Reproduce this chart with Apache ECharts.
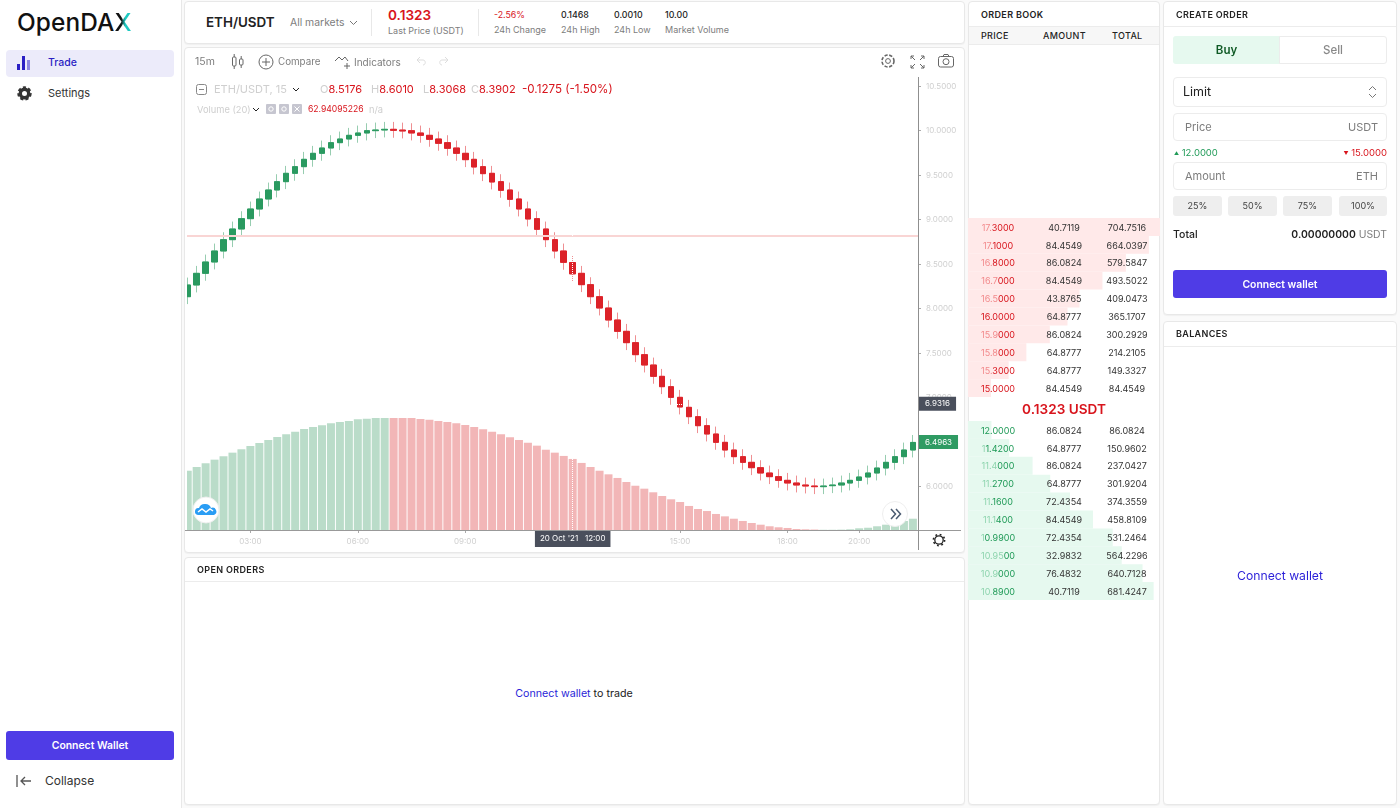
<!DOCTYPE html>
<html>
<head>
<meta charset="UTF-8">
<title>OpenDAX ETH/USDT</title>
<script src="https://cdn.jsdelivr.net/npm/echarts@6/dist/echarts.min.js"></script>
<style>
html,body{margin:0;padding:0;width:1400px;height:808px;overflow:hidden;background:#fafafa;font-family:Inter,"Noto Sans",sans-serif;color:#222}
.abs,.panel,.t{position:absolute}
.t{white-space:nowrap;line-height:1}
.panel{background:#fff;border:1px solid #e8e8e8;border-radius:4px;box-sizing:border-box;box-shadow:0 1px 1px rgba(0,0,0,.04)}
.head{font-size:9px;font-weight:600;letter-spacing:.35px;color:#222}
.hr{position:absolute;height:1px;background:#ececec}
.gray{color:#7d7d7d}
.pale{color:#cfcfcf}
.red{color:#d8141c}
.field{position:absolute;left:1173px;width:214px;box-sizing:border-box;border:1px solid #ececec;border-radius:4px;background:#fff}
.pct{position:absolute;top:196px;height:20px;background:#eee;border-radius:3px;font-size:9px;color:#444;text-align:center;line-height:20px}
.btn{position:absolute;background:#4f3ce6;color:#fff;border-radius:3px;text-align:center;font-weight:600;font-size:10.4px}
.row{position:absolute;left:968px;width:192px;height:18px;font-size:9px;line-height:18px;color:#333}
.row span.c{position:absolute;width:70px;text-align:center;top:0}
</style>
</head>
<body>
<!-- sidebar -->
<div class="abs" style="left:0;top:0;width:181px;height:808px;background:#fff;border-right:1px solid #e8e8e8"></div>
<div class="t" style="left:17px;top:10px;font-size:24.4px;font-weight:500;letter-spacing:.1px;color:#111">OpenDA<span style="background:linear-gradient(90deg,#111 40%,#1ec8c0 62%);-webkit-background-clip:text;background-clip:text;color:transparent">X</span></div>
<div class="abs" style="left:6px;top:50px;width:168px;height:27px;background:#ecebfa;border-radius:4px"></div>
<svg class="abs" style="left:17px;top:55px" width="15" height="15"><g fill="#2a1fc4"><rect x="0" y="9" width="3" height="6"/><rect x="5" y="1" width="3" height="14"/><rect x="10" y="5" width="3" height="10" fill="#8d87e0"/></g></svg>
<div class="t" style="left:48px;top:58px;font-size:10.5px;color:#2a1fc4;font-weight:500">Trade</div>
<svg class="abs" style="left:17px;top:86px" width="15" height="15"><circle cx="7.5" cy="7.5" r="4.2" fill="none" stroke="#333" stroke-width="3.4"/><circle cx="7.5" cy="7.5" r="6" fill="none" stroke="#333" stroke-width="2.4" stroke-dasharray="3 2.2"/></svg>
<div class="t" style="left:48px;top:88px;font-size:11px;color:#333">Settings</div>
<div class="btn" style="left:6px;top:731px;width:168px;height:29px;line-height:29px">Connect Wallet</div>
<svg class="abs" style="left:16px;top:774px" width="17" height="14"><path d="M1 1v12M15 7H5M9 3L5 7l4 4" stroke="#555" fill="none" stroke-width="1.3"/></svg>
<div class="t" style="left:45px;top:775px;font-size:12px;color:#333">Collapse</div>

<!-- market bar -->
<div class="panel" style="left:184px;top:1px;width:781px;height:43px"></div>
<div class="t" style="left:206px;top:16px;font-size:13.4px;font-weight:600">ETH/USDT</div>
<div class="t gray" style="left:290px;top:18px;font-size:10.4px">All markets</div>
<svg class="abs" style="left:349px;top:20px" width="9" height="6"><path d="M1 1l3.5 3.5L8 1" stroke="#777" fill="none"/></svg>
<div class="abs" style="left:371px;top:9px;width:1px;height:27px;background:#e8e8e8"></div>
<div class="t red" style="left:388px;top:9px;font-size:13.6px;font-weight:600">0.1323</div>
<div class="t gray" style="left:388px;top:26px;font-size:9px">Last Price (USDT)</div>
<div class="abs" style="left:478px;top:9px;width:1px;height:27px;background:#e8e8e8"></div>
<div class="t red" style="left:494px;top:11px;font-size:8.8px">-2.56%</div>
<div class="t gray" style="left:494px;top:25px;font-size:9px">24h Change</div>
<div class="t" style="left:561px;top:11px;font-size:8.8px;font-weight:500">0.1468</div>
<div class="t gray" style="left:561px;top:25px;font-size:9px">24h High</div>
<div class="t" style="left:614px;top:11px;font-size:8.8px;font-weight:500">0.0010</div>
<div class="t gray" style="left:614px;top:25px;font-size:9px">24h Low</div>
<div class="t" style="left:665px;top:11px;font-size:8.8px;font-weight:500">10.00</div>
<div class="t gray" style="left:665px;top:25px;font-size:9px">Market Volume</div>

<!-- chart panel -->
<div class="panel" style="left:184px;top:47px;width:781px;height:506px"></div>
<div class="abs" style="left:185px;top:530px;width:2px;height:1px;background:#999"></div>
<div id="priceChart" class="abs" style="left:187px;top:47px;width:778px;height:506px"></div>
<div class="t gray" style="left:195px;top:57px;font-size:10.5px">15m</div>
<svg class="abs" style="left:231px;top:53px" width="14" height="17" stroke="#666" fill="none"><rect x="1.5" y="4" width="3.5" height="9" rx="1"/><rect x="8.5" y="6" width="3.5" height="6" rx="1"/><path d="M3.2 1v3M3.2 13v3M10.2 3v3M10.2 12v3"/></svg>
<svg class="abs" style="left:258px;top:54px" width="16" height="16" stroke="#666" fill="none"><circle cx="8" cy="8" r="7"/><path d="M8 4v8M4 8h8"/></svg>
<div class="t gray" style="left:278px;top:57px;font-size:9.8px">Compare</div>
<svg class="abs" style="left:334px;top:54px" width="18" height="16" stroke="#666" fill="none"><path d="M1 7l4-4 3 3 3-3 3 4M13 9v6M10 12h6"/></svg>
<div class="t gray" style="left:354px;top:57px;font-size:10px">Indicators</div>
<svg class="abs" style="left:415px;top:56px" width="36" height="11" stroke="#ddd" fill="none"><path d="M5 1L2 4l3 3M2 4h6c3 0 3 5 0 5M30 1l3 3-3 3M33 4h-6c-3 0-3 5 0 5"/></svg>
<svg class="abs" style="left:880px;top:53px" width="16" height="16" stroke="#666" fill="none"><circle cx="8" cy="8" r="2.4"/><circle cx="8" cy="8" r="6" stroke-dasharray="3.2 1.6" stroke-width="1.6"/></svg>
<svg class="abs" style="left:910px;top:55px" width="15" height="14" stroke="#666" fill="none"><path d="M1 1l4 4M1 1h3M1 1v3M14 1l-4 4M14 1h-3M14 1v3M1 13l4-4M1 13h3M1 13v-3M14 13l-4-4M14 13h-3M14 13v-3"/></svg>
<svg class="abs" style="left:938px;top:54px" width="17" height="14" stroke="#666" fill="none"><rect x=".5" y="2.5" width="15" height="10.5" rx="2"/><circle cx="8" cy="7.7" r="3"/><path d="M5 2.5l1-2h4l1 2"/></svg>

<svg class="abs" style="left:196px;top:84px" width="11" height="11" stroke="#888" fill="none"><rect x=".5" y=".5" width="10" height="10" rx="2"/><path d="M3 5.5h5"/></svg>
<div class="t pale" style="left:214px;top:84px;font-size:11px">ETH/USDT, 15</div>
<svg class="abs" style="left:292px;top:87px" width="8" height="6"><path d="M1 1l3 3 3-3" stroke="#222" fill="none"/></svg>
<div class="t" style="left:320px;top:84px;font-size:11px"><span class="pale">O</span><span class="red">8.5176</span></div>
<div class="t" style="left:371px;top:84px;font-size:11px"><span class="pale">H</span><span class="red">8.6010</span></div>
<div class="t" style="left:423px;top:84px;font-size:11px"><span class="pale">L</span><span class="red">8.3068</span></div>
<div class="t" style="left:471px;top:84px;font-size:11px"><span class="pale">C</span><span class="red">8.3902</span></div>
<div class="t red" style="left:522px;top:84px;font-size:11.6px">-0.1275 (-1.50%)</div>
<div class="t pale" style="left:197px;top:105px;font-size:9.3px">Volume (20)</div>
<svg class="abs" style="left:252px;top:107px" width="8" height="6"><path d="M1 1l3 3 3-3" stroke="#222" fill="none"/></svg>
<svg class="abs" style="left:266px;top:104px" width="36" height="10"><g fill="#c6c6d0"><rect width="10" height="10" rx="1"/><rect x="13" width="10" height="10" rx="1"/><rect x="26" width="10" height="10" rx="1"/></g><g fill="none" stroke="#fff"><circle cx="5" cy="5" r="2.2"/><circle cx="18" cy="5" r="2.2"/><path d="M28.5 2.5l5 5M33.5 2.5l-5 5"/></g></svg>
<div class="t red" style="left:308px;top:105px;font-size:8.6px">62.94095226</div>
<div class="t pale" style="left:369px;top:105px;font-size:9.3px">n/a</div>

<svg class="abs" style="left:192px;top:496px" width="28" height="28"><circle cx="14" cy="14" r="13" fill="#fff" stroke="#eee"/><path d="M6 19a3.5 3.5 0 0 1 1-7 6 6 0 0 1 6-4 6 6 0 0 1 6 4 3.5 3.5 0 0 1 3 7z" fill="#2a9df4"/><path d="M6 16l4-3 4 3 4-3 3 2" stroke="#fff" fill="none" stroke-width="1.5"/></svg>
<svg class="abs" style="left:881px;top:500px" width="28" height="28"><circle cx="14" cy="14" r="12.5" fill="#fff" stroke="#eee"/><path d="M10 9l4.5 5-4.5 5M15 9l4.5 5-4.5 5" stroke="#4a5a70" fill="none" stroke-width="1.5"/></svg>
<svg class="abs" style="left:932px;top:533px" width="14" height="14"><circle cx="7" cy="7" r="4.2" fill="none" stroke="#222" stroke-width="1.3"/><circle cx="7" cy="7" r="5.6" fill="none" stroke="#222" stroke-width="1.6" stroke-dasharray="1.8 2.6"/></svg>

<!-- open orders -->
<div class="panel" style="left:184px;top:557px;width:781px;height:248px"></div>
<div class="t head" style="left:197px;top:565px">OPEN ORDERS</div>
<div class="hr" style="left:185px;top:581px;width:779px"></div>
<div class="t" style="left:574px;top:689px;font-size:10.7px;transform:translateX(-50%)"><span style="color:#2a1fd8">Connect wallet</span> to trade</div>

<!-- order book -->
<div class="panel" style="left:968px;top:1px;width:192px;height:804px"></div>
<div class="t head" style="left:981px;top:10px">ORDER BOOK</div>
<div class="abs" style="left:969px;top:26px;width:190px;height:19px;background:#f7f7f7;border-top:1px solid #ececec;border-bottom:1px solid #ececec;box-sizing:border-box"></div>
<div class="t head" style="left:981px;top:31px;font-weight:500">PRICE</div>
<div class="t head" style="left:1043px;top:31px;font-weight:500">AMOUNT</div>
<div class="t head" style="left:1112px;top:31px;font-weight:500">TOTAL</div>
<div id="depthChart" class="abs" style="left:968px;top:210px;width:192px;height:400px"></div>
<div id="bookRows"></div>
<div class="t red" style="left:1064px;top:403px;font-size:13.6px;font-weight:600;transform:translateX(-50%)">0.1323 USDT</div>

<!-- create order -->
<div class="panel" style="left:1163px;top:1px;width:234px;height:314px"></div>
<div class="t head" style="left:1176px;top:10px">CREATE ORDER</div>
<div class="hr" style="left:1164px;top:26px;width:232px"></div>
<div class="abs" style="left:1173px;top:36px;width:107px;height:28px;background:#e6f9ef;border-radius:3px 0 0 3px;text-align:center;line-height:28px;font-size:11.5px;font-weight:600;color:#0f5a25">Buy</div>
<div class="abs" style="left:1279px;top:36px;width:108px;height:28px;box-sizing:border-box;border:1px solid #ececec;border-radius:0 3px 3px 0;text-align:center;line-height:26px;font-size:11.5px;font-weight:500;color:#888">Sell</div>
<div class="field" style="top:77px;height:30px"></div>
<div class="t" style="left:1183px;top:86px;font-size:12.5px;color:#222">Limit</div>
<svg class="abs" style="left:1368px;top:85px" width="9" height="14" stroke="#777" fill="none"><path d="M1 5l3.5-3.5L8 5M1 9l3.5 3.5L8 9"/></svg>
<div class="field" style="top:113px;height:28px"></div>
<div class="t gray" style="left:1185px;top:122px;font-size:11px">Price</div>
<div class="t gray" style="right:22px;top:122px;font-size:11px">USDT</div>
<div class="t" style="left:1174px;top:148px;font-size:9.5px;color:#1f9a57"><span style="font-size:5px;vertical-align:1px">▲</span> 12.0000</div>
<div class="t red" style="right:13px;top:148px;font-size:9.5px"><span style="font-size:5px;vertical-align:1px">▼</span> 15.0000</div>
<div class="field" style="top:162px;height:28px"></div>
<div class="t gray" style="left:1185px;top:171px;font-size:11px">Amount</div>
<div class="t gray" style="right:22px;top:171px;font-size:11px">ETH</div>
<div class="pct" style="left:1173px;width:49px">25%</div>
<div class="pct" style="left:1228px;width:49px">50%</div>
<div class="pct" style="left:1283px;width:49px">75%</div>
<div class="pct" style="left:1339px;width:48px">100%</div>
<div class="t" style="left:1173px;top:230px;font-size:10.5px;font-weight:500">Total</div>
<div class="t" style="right:13px;top:230px;font-size:10.4px"><b style="font-weight:600">0.00000000</b> <span class="gray">USDT</span></div>
<div class="btn" style="left:1173px;top:270px;width:214px;height:28px;line-height:29px">Connect wallet</div>

<!-- balances -->
<div class="panel" style="left:1163px;top:321px;width:234px;height:484px"></div>
<div class="t head" style="left:1176px;top:329px">BALANCES</div>
<div class="hr" style="left:1164px;top:346px;width:232px"></div>
<div class="t" style="left:1280px;top:570px;font-size:12.2px;color:#2a1fd8;transform:translateX(-50%)">Connect wallet</div>

<script type="text/javascript">
// candles, 15 minute steps, first one at 01:15 on 20 Oct '21
var opens = [8.134,8.2652,8.3963,8.5236,8.6472,8.7746,8.8944,9.0105,9.1191,9.2315,9.3326,9.4263,9.5199,9.5948,9.6772,9.7446,9.8045,9.8645,9.9057,9.9469,9.9731,9.9993,10.0068,
  10.0143,10.006,9.9993,9.9731,9.9469,9.9057,9.8645,9.8045,9.7446,9.6772,9.5948,9.5199,9.4263,9.3326,9.2315,9.1191,9.0105,8.8944,8.7746,8.6472,8.5176,8.3962,8.2689,8.134,8.0067,7.8719,7.7445,7.6172,7.4824,7.3662,7.2389,7.1228,7.003,6.8906,6.7857,6.6846,6.591,6.4974,6.4112,6.3363,6.2727,6.2127,6.1528,6.1116,6.0704,6.0404,6.018,6.0067,
  5.9993,6.0104,6.018,6.0404,6.0704,6.1079,6.1528,6.2089,6.2727,6.3363,6.4112];
var closes = [8.2652,8.3963,8.5236,8.6472,8.7746,8.8944,9.0105,9.1191,9.2315,9.3326,9.4263,9.5199,9.5948,9.6772,9.7446,9.8045,9.8645,9.9057,9.9469,9.9731,9.9993,10.0068,10.0143,
  10.003,9.9955,9.9731,9.9469,9.9019,9.857,9.8008,9.7446,9.6734,9.591,9.5162,9.4225,9.3289,9.2278,9.1191,9.0068,8.8907,8.7746,8.6472,8.5198,8.3902,8.2689,8.134,8.0067,7.8719,7.7445,7.6172,7.4824,7.3662,7.2389,7.1228,7.003,6.8944,6.7857,6.6846,6.591,6.4974,6.4112,6.3363,6.2727,6.2127,6.1528,6.1116,6.0704,6.0404,6.018,6.0067,5.9993,
  6.0067,6.018,6.0404,6.0704,6.1079,6.1528,6.2089,6.2727,6.3363,6.4112,6.4963];
var highs = [8.3486,8.4797,8.607,8.7306,8.858,8.9778,9.0939,9.2025,9.3149,9.416,9.5097,9.6033,9.6782,9.7606,9.828,9.8879,9.9479,9.9891,10.0303,10.0565,10.0827,10.0902,10.0977,
  10.0977,10.0894,10.0827,10.0565,10.0303,9.9891,9.9479,9.8879,9.828,9.7606,9.6782,9.6033,9.5097,9.416,9.3149,9.2025,9.0939,8.9778,8.858,8.7306,8.601,8.4796,8.3523,8.2174,8.0901,7.9553,7.8279,7.7006,7.5658,7.4496,7.3223,7.2062,7.0864,6.974,6.8691,6.768,6.6744,6.5808,6.4946,6.4197,6.3561,6.2961,6.2362,6.195,6.1538,6.1238,6.1014,6.0901,
  6.0901,6.1014,6.1238,6.1538,6.1913,6.2362,6.2923,6.3561,6.4197,6.4946,6.5797];
var lows = [8.0506,8.1818,8.3129,8.4402,8.5638,8.6912,8.811,8.9271,9.0357,9.1481,9.2492,9.3429,9.4365,9.5114,9.5938,9.6612,9.7211,9.7811,9.8223,9.8635,9.8897,9.9159,9.9234,
  9.9196,9.9121,9.8897,9.8635,9.8185,9.7736,9.7174,9.6612,9.59,9.5076,9.4328,9.3391,9.2455,9.1444,9.0357,8.9234,8.8073,8.6912,8.5638,8.4364,8.3068,8.1855,8.0506,7.9233,7.7885,7.6611,7.5338,7.399,7.2828,7.1555,7.0394,6.9196,6.811,6.7023,6.6012,6.5076,6.414,6.3278,6.2529,6.1893,6.1293,6.0694,6.0282,5.987,5.957,5.9346,5.9233,5.9159,
  5.9159,5.927,5.9346,5.957,5.987,6.0245,6.0694,6.1255,6.1893,6.2529,6.3278];
var volumes = [52.5,55.8,59.1,62.3,65.3,68.5,71.5,74.4,77.1,79.7,82.4,84.8,87.1,89.5,91.3,92.8,94.5,95.7,96.6,98.1,98.6,99.2,99.2,
  99.2,99.2,99.2,98.3,97.7,96.6,95.7,94.5,93,91.3,89.2,87.1,84.8,82.1,79.7,77.3,74.7,71.1,68.5,65.6,62.94,59.4,55.8,52.5,49.3,46.1,42.5,39.2,36.6,33.4,30.1,27.2,24.8,21.3,18.6,16.8,14.2,12.1,10,8,6.2,4.7,3.3,2.4,1.8,0.9,0.6,0.4,
  0.2,0.2,0.3,0.6,1.5,2,3.3,4.7,5.6,8,10];
var timeTicks = [7,19,31,43,55,67,75];
var timeLabels = ['03:00','06:00','09:00','12:00','15:00','18:00','20:00'];
var priceTicks = [6,6.5,7,7.5,8,8.5,9,9.5,10,10.5];
var askLine = 8.8157;
var crossIndex = 43;
var crossPrice = 6.9316;
var lastPrice = 6.4963;

// order book
var askPrices = ['17.3000','17.1000','16.8000','16.7000','16.5000','16.0000','15.9000','15.8000','15.3000','15.0000'];
var askDim = [3,2,3,4,4,0,4,4,3,0];
var askAmounts = ['40.7119','84.4549','86.0824','84.4549','43.8765','64.8777','86.0824','64.8777','64.8777','84.4549'];
var askTotals = [704.7516,664.0397,579.5847,493.5022,409.0473,365.1707,300.2929,214.2105,149.3327,84.4549];
var bidPrices = ['12.0000','11.4200','11.4000','11.2700','11.1600','11.1400','10.9900','10.9500','10.9000','10.8900'];
var bidDim = [0,1,4,3,2,4,1,5,4,3];
var bidAmounts = ['86.0824','64.8777','86.0824','64.8777','72.4354','84.4549','72.4354','32.9832','76.4832','40.7119'];
var bidTotals = [86.0824,150.9602,237.0427,301.9204,374.3559,458.8109,531.2464,564.2296,640.7128,681.4247];

var GREEN='#2a9a60',GREEN_WICK='#97cdb0',RED='#dc2229',RED_WICK='#ef8f92';

var wickData=[],bodyData=[],volData=[];
for(var i=0;i<opens.length;i++){
    wickData.push([i,opens[i],closes[i],lows[i],highs[i]]);
    bodyData.push([i,opens[i],closes[i],Math.min(opens[i],closes[i]),Math.max(opens[i],closes[i])]);
    volData.push({value:[i,volumes[i]],itemStyle:{color:closes[i]>opens[i]?'#badcc9':'#f2b6b7'}});
}

var priceChart=echarts.init(document.getElementById('priceChart'));
priceChart.setOption({
    animation:false,
    grid:{left:0,top:30,width:731,height:453},
    xAxis:{
        type:'value',min:-0.08,max:81.57,
        axisLine:{show:false,onZero:false},splitLine:{show:false},
        axisTick:{show:true,customValues:timeTicks,length:3,lineStyle:{color:'#aaa'}},
        axisLabel:{
            customValues:timeTicks,color:'#cfcfcf',fontSize:8,fontFamily:'Inter',margin:8,
            formatter:function(v){return timeLabels[timeTicks.indexOf(v)]||'';}
        }
    },
    yAxis:[
        {
            type:'value',position:'right',min:5.5124,max:10.6022,
            axisLine:{show:false,onZero:false},splitLine:{show:false},
            axisTick:{show:true,customValues:priceTicks,length:3,lineStyle:{color:'#aaa'}},
            axisLabel:{
                customValues:priceTicks,color:'#cfcfcf',fontSize:8,fontFamily:'Inter',margin:8,
                formatter:function(v){return v.toFixed(4);}
            }
        },
        {type:'value',min:0,max:401.2,show:false}
    ],
    series:[
        {type:'bar',yAxisIndex:1,barWidth:8,data:volData,silent:true,clip:true},
        {
            type:'candlestick',barWidth:6,data:wickData,silent:true,clip:true,
            itemStyle:{color:GREEN_WICK,color0:RED_WICK,borderColor:GREEN_WICK,borderColor0:RED_WICK,borderWidth:1},
            markLine:{
                silent:true,symbol:'none',animation:false,
                data:[{yAxis:askLine,lineStyle:{color:'#f9d5d4',width:2,type:'solid'},label:{show:false}}]
            }
        },
        {
            type:'candlestick',barWidth:6,data:bodyData,silent:true,clip:true,z:3,
            itemStyle:{color:GREEN,color0:RED,borderColor:GREEN,borderColor0:RED,borderWidth:1},
            markLine:{
                silent:true,symbol:'none',animation:false,
                label:{fontSize:8,fontFamily:'Inter',color:'#fff'},
                data:[
                    {yAxis:crossPrice,lineStyle:{color:'#fff',width:1,type:'dotted'},
                     label:{position:'end',distance:0,formatter:crossPrice.toFixed(4),backgroundColor:'#4a4f5c',padding:[3,6,3,7]}},
                    {yAxis:lastPrice,lineStyle:{color:'rgba(0,0,0,0)',width:1},
                     label:{position:'end',distance:0,formatter:lastPrice.toFixed(4),backgroundColor:'#2f9b63',padding:[3,6,3,7]}},
                    {xAxis:crossIndex,lineStyle:{color:'#fff',width:1,type:'dotted'},
                     label:{position:'start',distance:1,formatter:"20 Oct '21   "+timeLabels[timeTicks.indexOf(crossIndex)],backgroundColor:'#4a4f5c',padding:[4,5,4,5]}}
                ]
            }
        }
    ],
    graphic:[
        {type:'line',silent:true,z:10,shape:{x1:0,y1:483.5,x2:774,y2:483.5},style:{stroke:'#999',lineWidth:1}},
        {type:'line',silent:true,z:10,shape:{x1:731.5,y1:30,x2:731.5,y2:503},style:{stroke:'#8f8f8f',lineWidth:1}}
    ]
});

// depth bars, both sides share the largest total as the full width
var depthChart=echarts.init(document.getElementById('depthChart'));
var depthMax=Math.max.apply(null,askTotals.concat(bidTotals));
var depthY={type:'category',inverse:true,show:false};
depthChart.setOption({
    animation:false,
    grid:[{left:0,top:8,width:192,height:179},{left:0,top:211,width:192,height:179}],
    xAxis:[{type:'value',gridIndex:0,min:0,max:depthMax,show:false},{type:'value',gridIndex:1,min:0,max:depthMax,show:false}],
    yAxis:[
        Object.assign({gridIndex:0,data:askPrices},depthY),
        Object.assign({gridIndex:1,data:bidPrices},depthY)
    ],
    series:[
        {type:'bar',xAxisIndex:0,yAxisIndex:0,data:askTotals,barWidth:'100%',itemStyle:{color:'#ffe9e9'},silent:true},
        {type:'bar',xAxisIndex:1,yAxisIndex:1,data:bidTotals,barWidth:'100%',itemStyle:{color:'#e6f9ef'},silent:true}
    ]
});

// text of the book rows
function addRows(prices,dims,amounts,totals,top,dark,light){
    var box=document.getElementById('bookRows');
    for(var i=0;i<prices.length;i++){
        var r=document.createElement('div');
        r.className='row';
        r.style.top=(top+i*17.9)+'px';
        var p=prices[i];
        r.innerHTML='<span class="c" style="left:-5px;color:'+dark+'"><span style="color:'+light+'">'+p.slice(0,dims[i])+'</span>'+p.slice(dims[i])+'</span>'
            +'<span class="c" style="left:61px">'+amounts[i]+'</span>'
            +'<span class="c" style="left:124px">'+totals[i].toFixed(4)+'</span>';
        box.appendChild(r);
    }
}
addRows(askPrices,askDim,askAmounts,askTotals,218.6,'#d8141c','#f28a8c');
addRows(bidPrices,bidDim,bidAmounts,bidTotals,421.6,'#1f9a57','#8ed4ae');
</script>
</body>
</html>
